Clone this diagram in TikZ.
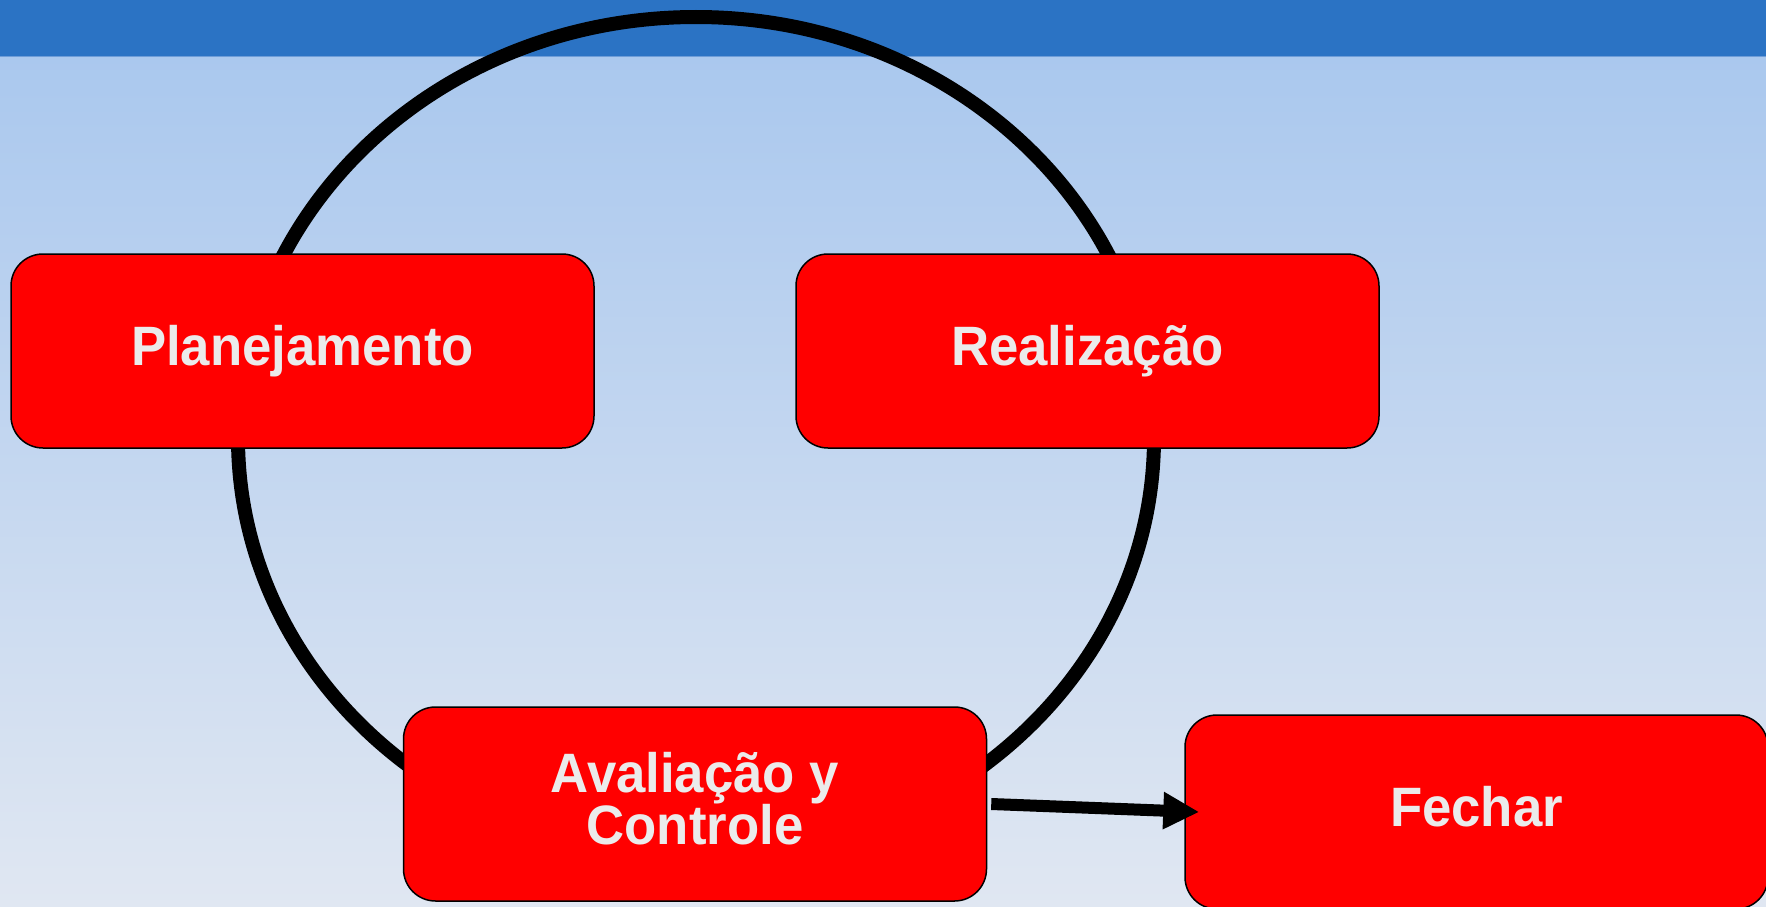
\documentclass[tikz,border=0pt]{standalone}
\usepackage{fontspec}
\setmainfont{Liberation Sans}[FakeStretch=0.95]
\usetikzlibrary{arrows.meta,positioning,shapes}
\definecolor{barblue}{HTML}{2B73C4}
\definecolor{barline}{HTML}{6E9DD8}
\definecolor{bgtop}{HTML}{AAC8EE}
\definecolor{bgbottom}{HTML}{E0E7F2}
\definecolor{textgray}{HTML}{EBEBEB}

\begin{document}
\begin{tikzpicture}[x=1pt,y=-1pt,
  phase/.style={draw=black,line width=1.5pt,fill=red,rounded corners=32pt,
    minimum width=583pt,minimum height=194pt,inner sep=0pt,text=textgray,
    font=\fontsize{55.5}{51}\selectfont\bfseries,text depth=11pt,align=center}]
\useasboundingbox (0,0) rectangle (1766,907);
\shade[top color=bgtop,bottom color=bgbottom] (0,56) rectangle (1766,907);
\fill[barblue] (0,0) rectangle (1766,56);
\draw[barline,line width=1.5pt] (0,56.5) -- (1766,56.5);
\draw[line width=14pt] (696,438) ellipse [x radius=458pt, y radius=421pt];
\node[phase] (1) at (302.5,351) {Planejamento};
\node[phase] (2) at (1087.5,351) {Realização};
\node[phase] (3) at (695,804) {Avaliação y\\Controle};
\node[phase] (4) at (1476.5,812) {Fechar};
\draw[line width=12pt,-{Triangle[length=36pt,width=35pt]}] ([xshift=4pt]3.east) -- ([xshift=15pt]4.west);
\end{tikzpicture}
\end{document}
